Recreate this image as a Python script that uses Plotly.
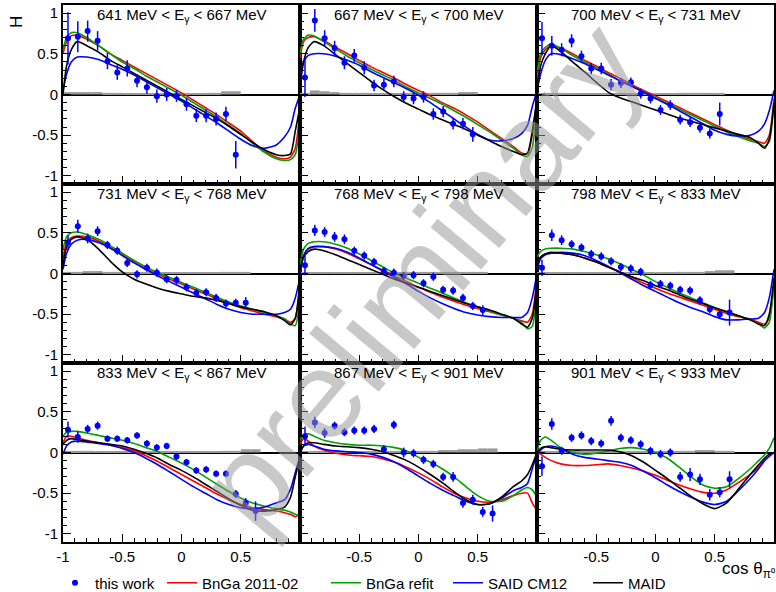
import plotly.graph_objects as go
from plotly.subplots import make_subplots

# ---------------- data ----------------
COS_BINS = [-0.958, -0.875, -0.792, -0.708, -0.625, -0.542, -0.458, -0.375, -0.292, -0.208,
            -0.125, -0.042, 0.042, 0.125, 0.208, 0.292, 0.375, 0.458, 0.542, 0.625]
BIN_WIDTH = 1.0 / 12

E_LOW = [641, 667, 700, 731, 768, 798, 833, 867, 901]
E_HIGH = [667, 700, 731, 768, 798, 833, 867, 901, 933]

H_641 = [0.69, 0.71, 0.78, 0.66, 0.41, 0.27, 0.32, 0.17, 0.09, -0.02, 0.0, -0.02, -0.12, -0.26, -0.26, -0.30, -0.24, -0.74]
E_641 = [0.32, 0.19, 0.13, 0.12, 0.10, 0.09, 0.10, 0.08, 0.08, 0.08, 0.08, 0.07, 0.08, 0.08, 0.08, 0.08, 0.09, 0.17]
S_641 = [0.03, 0.03, 0.03, 0.03, 0.02, 0.02, 0.01, 0.01, 0.01, 0.01, 0.01, 0.01, 0.01, 0.01, 0.02, 0.02, 0.04, 0.04]

H_667 = [0.21, 0.91, 0.69, 0.57, 0.39, 0.48, 0.33, 0.11, 0.12, 0.16, -0.03, -0.05, -0.03, -0.24, -0.21, -0.36, -0.36, -0.49]
E_667 = [0.24, 0.14, 0.10, 0.09, 0.08, 0.08, 0.08, 0.07, 0.07, 0.07, 0.07, 0.07, 0.07, 0.07, 0.07, 0.07, 0.07, 0.09]
S_667 = [0.02, 0.05, 0.04, 0.03, 0.02, 0.02, 0.02, 0.01, 0.01, 0.01, 0.01, 0.01, 0.01, 0.02, 0.02, 0.02, 0.03, 0.03]

H_700 = [0.69, 0.60, 0.55, 0.66, 0.47, 0.32, 0.32, 0.12, 0.14, 0.15, 0.01, -0.05, -0.19, -0.13, -0.31, -0.34, -0.41, -0.48, -0.24]
E_700 = [0.20, 0.12, 0.08, 0.08, 0.07, 0.07, 0.07, 0.07, 0.06, 0.06, 0.06, 0.06, 0.06, 0.06, 0.06, 0.06, 0.06, 0.06, 0.14]
S_700 = [0.01, 0.02, 0.02, 0.01, 0.01, 0.01, 0.01, 0.01, 0.01, 0.01, 0.01, 0.01, 0.01, 0.01, 0.02, 0.02, 0.02, 0.02, 0.02]

H_731 = [0.38, 0.58, 0.43, 0.52, 0.35, 0.28, 0.13, -0.01, 0.07, 0.01, -0.07, -0.08, -0.17, -0.24, -0.23, -0.30, -0.37, -0.36, -0.36]
E_731 = [0.09, 0.08, 0.06, 0.06, 0.05, 0.05, 0.05, 0.05, 0.05, 0.05, 0.05, 0.05, 0.05, 0.05, 0.05, 0.05, 0.05, 0.05, 0.07]
S_731 = [0.02, 0.02, 0.03, 0.03, 0.02, 0.02, 0.01, 0.01, 0.01, 0.01, 0.01, 0.01, 0.01, 0.01, 0.01, 0.01, 0.02, 0.02, 0.02]

H_768 = [0.10, 0.53, 0.51, 0.45, 0.42, 0.28, 0.22, 0.14, 0.03, 0.01, -0.03, -0.02, -0.12, -0.04, -0.20, -0.21, -0.30, -0.40, -0.45]
E_768 = [0.12, 0.07, 0.06, 0.06, 0.06, 0.05, 0.05, 0.05, 0.05, 0.05, 0.05, 0.05, 0.05, 0.05, 0.05, 0.05, 0.05, 0.05, 0.06]
S_768 = [0.01, 0.01, 0.01, 0.01, 0.01, 0.01, 0.01, 0.01, 0.02, 0.02, 0.02, 0.02, 0.02, 0.02, 0.02, 0.02, 0.02, 0.02, 0.02]

H_798 = [0.07, 0.47, 0.41, 0.36, 0.32, 0.24, 0.21, 0.15, 0.08, 0.06, 0.02, -0.14, -0.13, -0.15, -0.20, -0.21, -0.33, -0.44, -0.50, -0.48]
E_798 = [0.10, 0.07, 0.06, 0.05, 0.05, 0.05, 0.05, 0.05, 0.05, 0.05, 0.05, 0.05, 0.05, 0.05, 0.05, 0.05, 0.05, 0.05, 0.06, 0.16]
S_798 = [0.01, 0.01, 0.01, 0.01, 0.01, 0.01, 0.01, 0.01, 0.01, 0.01, 0.01, 0.01, 0.01, 0.01, 0.02, 0.02, 0.02, 0.03, 0.04, 0.04]

H_833 = [0.28, 0.19, 0.29, 0.33, 0.17, 0.17, 0.15, 0.21, 0.11, 0.06, 0.08, -0.05, -0.12, -0.22, -0.21, -0.26, -0.26, -0.51, -0.62, -0.72]
E_833 = [0.10, 0.07, 0.05, 0.05, 0.04, 0.04, 0.04, 0.04, 0.04, 0.04, 0.04, 0.04, 0.04, 0.04, 0.04, 0.04, 0.04, 0.05, 0.06, 0.12]
S_833 = [0.02, 0.02, 0.02, 0.01, 0.01, 0.01, 0.01, 0.01, 0.01, 0.01, 0.01, 0.01, 0.01, 0.01, 0.01, 0.01, 0.02, 0.02, 0.04, 0.04]

H_867 = [0.20, 0.37, 0.24, 0.33, 0.25, 0.27, 0.27, 0.29, 0.04, 0.34, 0.0, -0.01, -0.09, -0.14, -0.30, -0.30, -0.62, -0.58, -0.73, -0.75]
E_867 = [0.12, 0.07, 0.06, 0.05, 0.05, 0.05, 0.05, 0.05, 0.05, 0.05, 0.06, 0.05, 0.05, 0.05, 0.05, 0.06, 0.06, 0.06, 0.06, 0.10]
S_867 = [0.01, 0.01, 0.01, 0.01, 0.01, 0.01, 0.01, 0.01, 0.01, 0.01, 0.01, 0.01, 0.02, 0.02, 0.03, 0.03, 0.04, 0.04, 0.05, 0.05]

H_901 = [-0.17, 0.35, 0.02, 0.18, 0.21, 0.14, 0.11, 0.39, 0.18, 0.15, 0.10, 0.02, -0.02, 0.0, -0.30, -0.27, -0.33, -0.52, -0.49, -0.33]
E_901 = [0.12, 0.07, 0.05, 0.05, 0.05, 0.05, 0.05, 0.06, 0.05, 0.05, 0.05, 0.05, 0.05, 0.05, 0.06, 0.08, 0.07, 0.07, 0.06, 0.10]
S_901 = [0.01, 0.01, 0.01, 0.01, 0.01, 0.01, 0.01, 0.01, 0.01, 0.01, 0.01, 0.01, 0.01, 0.02, 0.02, 0.02, 0.03, 0.03, 0.02, 0.02]

COS_MODEL = [-1.0, -0.97, -0.93, -0.88, -0.8, -0.7, -0.6, -0.5, -0.4, -0.3, -0.2, -0.1, 0.0,
             0.1, 0.2, 0.3, 0.4, 0.5, 0.6, 0.7, 0.8, 0.87, 0.92, 0.96, 1.0]

BNGA_641 = [0.50, 0.65, 0.72, 0.73, 0.68, 0.60, 0.50, 0.42, 0.34, 0.26, 0.18, 0.10, 0.02, -0.07, -0.16, -0.25, -0.35, -0.45, -0.58, -0.70, -0.77, -0.79, -0.77, -0.66, -0.20]
REFIT_641 = [0.55, 0.70, 0.76, 0.76, 0.70, 0.60, 0.50, 0.40, 0.32, 0.23, 0.15, 0.07, -0.01, -0.10, -0.19, -0.28, -0.38, -0.48, -0.60, -0.71, -0.79, -0.81, -0.80, -0.74, -0.30]
SAID_641 = [0.05, 0.25, 0.40, 0.46, 0.46, 0.43, 0.37, 0.31, 0.24, 0.16, 0.08, 0.0, -0.08, -0.17, -0.26, -0.35, -0.45, -0.55, -0.63, -0.66, -0.62, -0.52, -0.40, -0.17, 0.0]
MAID_641 = [0.0, 0.35, 0.55, 0.65, 0.60, 0.52, 0.42, 0.34, 0.26, 0.18, 0.10, 0.02, -0.06, -0.14, -0.22, -0.30, -0.39, -0.49, -0.59, -0.68, -0.74, -0.75, -0.73, -0.45, -0.15]

BNGA_667 = [0.45, 0.65, 0.70, 0.71, 0.66, 0.58, 0.50, 0.42, 0.34, 0.27, 0.20, 0.12, 0.05, -0.02, -0.10, -0.17, -0.25, -0.34, -0.44, -0.54, -0.64, -0.72, -0.73, -0.50, -0.05]
REFIT_667 = [0.50, 0.68, 0.73, 0.72, 0.65, 0.56, 0.47, 0.39, 0.31, 0.24, 0.17, 0.09, 0.02, -0.05, -0.12, -0.20, -0.28, -0.37, -0.46, -0.56, -0.66, -0.74, -0.76, -0.65, -0.10]
SAID_667 = [0.25, 0.40, 0.48, 0.50, 0.50, 0.47, 0.42, 0.36, 0.28, 0.21, 0.14, 0.07, -0.01, -0.10, -0.20, -0.30, -0.40, -0.49, -0.56, -0.57, -0.54, -0.48, -0.38, -0.15, 0.05]
MAID_667 = [0.10, 0.40, 0.58, 0.65, 0.60, 0.49, 0.38, 0.27, 0.16, 0.06, -0.03, -0.11, -0.18, -0.25, -0.31, -0.37, -0.43, -0.50, -0.57, -0.64, -0.70, -0.74, -0.72, -0.45, -0.05]

BNGA_700 = [0.20, 0.45, 0.55, 0.60, 0.57, 0.50, 0.42, 0.35, 0.27, 0.20, 0.12, 0.05, -0.02, -0.09, -0.16, -0.23, -0.30, -0.37, -0.44, -0.50, -0.55, -0.58, -0.60, -0.50, -0.05]
REFIT_700 = [0.25, 0.50, 0.58, 0.62, 0.57, 0.48, 0.40, 0.33, 0.25, 0.17, 0.10, 0.03, -0.04, -0.11, -0.18, -0.25, -0.32, -0.39, -0.46, -0.52, -0.57, -0.60, -0.64, -0.58, -0.10]
SAID_700 = [0.05, 0.25, 0.42, 0.50, 0.49, 0.44, 0.38, 0.31, 0.24, 0.17, 0.10, 0.03, -0.05, -0.12, -0.20, -0.28, -0.36, -0.44, -0.49, -0.51, -0.50, -0.45, -0.36, -0.20, 0.05]
MAID_700 = [0.0, 0.35, 0.50, 0.60, 0.53, 0.40, 0.28, 0.15, 0.03, -0.04, -0.09, -0.14, -0.19, -0.24, -0.29, -0.33, -0.37, -0.41, -0.45, -0.49, -0.53, -0.60, -0.66, -0.55, -0.10]

BNGA_731 = [0.20, 0.38, 0.44, 0.46, 0.45, 0.40, 0.32, 0.23, 0.14, 0.06, -0.01, -0.07, -0.13, -0.19, -0.25, -0.31, -0.37, -0.42, -0.46, -0.50, -0.53, -0.56, -0.60, -0.55, -0.10]
REFIT_731 = [0.30, 0.45, 0.50, 0.51, 0.48, 0.42, 0.34, 0.25, 0.16, 0.08, 0.01, -0.05, -0.11, -0.17, -0.23, -0.29, -0.35, -0.40, -0.44, -0.48, -0.52, -0.56, -0.62, -0.64, -0.30]
SAID_731 = [0.05, 0.25, 0.36, 0.41, 0.42, 0.38, 0.31, 0.22, 0.13, 0.05, -0.03, -0.10, -0.17, -0.24, -0.31, -0.38, -0.44, -0.48, -0.50, -0.50, -0.50, -0.48, -0.44, -0.30, -0.05]
MAID_731 = [0.10, 0.33, 0.42, 0.45, 0.42, 0.30, 0.15, 0.02, -0.07, -0.13, -0.18, -0.22, -0.25, -0.28, -0.30, -0.33, -0.37, -0.41, -0.44, -0.47, -0.52, -0.58, -0.63, -0.55, -0.10]

BNGA_768 = [0.0, 0.22, 0.30, 0.33, 0.33, 0.30, 0.25, 0.18, 0.11, 0.04, -0.03, -0.10, -0.17, -0.23, -0.29, -0.34, -0.39, -0.43, -0.47, -0.51, -0.55, -0.58, -0.60, -0.50, -0.05]
REFIT_768 = [0.10, 0.30, 0.37, 0.39, 0.39, 0.36, 0.31, 0.24, 0.16, 0.08, 0.0, -0.06, -0.12, -0.18, -0.24, -0.30, -0.36, -0.41, -0.46, -0.51, -0.55, -0.60, -0.68, -0.65, -0.20]
SAID_768 = [0.0, 0.22, 0.31, 0.33, 0.33, 0.31, 0.26, 0.19, 0.11, 0.03, -0.05, -0.13, -0.22, -0.30, -0.37, -0.43, -0.48, -0.51, -0.53, -0.54, -0.54, -0.54, -0.48, -0.30, 0.0]
MAID_768 = [0.05, 0.20, 0.27, 0.30, 0.28, 0.23, 0.17, 0.11, 0.05, -0.01, -0.07, -0.12, -0.17, -0.22, -0.27, -0.32, -0.37, -0.41, -0.45, -0.50, -0.55, -0.62, -0.66, -0.55, -0.10]

BNGA_798 = [0.10, 0.20, 0.24, 0.25, 0.25, 0.23, 0.19, 0.14, 0.08, 0.02, -0.05, -0.12, -0.18, -0.24, -0.29, -0.34, -0.39, -0.44, -0.49, -0.53, -0.56, -0.60, -0.62, -0.55, -0.10]
REFIT_798 = [0.20, 0.27, 0.30, 0.31, 0.31, 0.30, 0.27, 0.23, 0.18, 0.12, 0.05, -0.02, -0.10, -0.17, -0.24, -0.30, -0.36, -0.42, -0.47, -0.52, -0.57, -0.62, -0.67, -0.60, -0.10]
SAID_798 = [0.05, 0.18, 0.23, 0.25, 0.26, 0.25, 0.22, 0.16, 0.09, 0.01, -0.07, -0.15, -0.22, -0.29, -0.36, -0.42, -0.47, -0.53, -0.57, -0.57, -0.56, -0.55, -0.48, -0.30, 0.05]
MAID_798 = [0.10, 0.20, 0.24, 0.26, 0.25, 0.23, 0.19, 0.14, 0.08, 0.02, -0.04, -0.09, -0.15, -0.20, -0.26, -0.32, -0.37, -0.42, -0.47, -0.52, -0.57, -0.62, -0.64, -0.50, -0.05]

BNGA_833 = [0.12, 0.20, 0.20, 0.18, 0.15, 0.12, 0.09, 0.06, 0.02, -0.04, -0.11, -0.19, -0.27, -0.35, -0.43, -0.51, -0.58, -0.64, -0.68, -0.70, -0.72, -0.74, -0.76, -0.79, -0.75]
REFIT_833 = [0.20, 0.25, 0.26, 0.26, 0.24, 0.21, 0.18, 0.15, 0.11, 0.06, 0.01, -0.06, -0.13, -0.21, -0.30, -0.39, -0.48, -0.56, -0.62, -0.66, -0.69, -0.71, -0.73, -0.76, -0.78]
SAID_833 = [-0.02, 0.08, 0.13, 0.14, 0.13, 0.11, 0.09, 0.05, 0.0, -0.07, -0.15, -0.24, -0.33, -0.42, -0.50, -0.58, -0.64, -0.68, -0.69, -0.67, -0.62, -0.58, -0.45, -0.25, -0.05]
MAID_833 = [0.10, 0.15, 0.17, 0.16, 0.14, 0.12, 0.10, 0.08, 0.04, -0.01, -0.07, -0.15, -0.22, -0.30, -0.39, -0.48, -0.57, -0.65, -0.71, -0.72, -0.70, -0.67, -0.55, -0.30, -0.05]

BNGA_867 = [0.10, 0.17, 0.14, 0.08, 0.03, -0.01, -0.03, -0.04, -0.05, -0.08, -0.12, -0.18, -0.25, -0.33, -0.42, -0.50, -0.56, -0.60, -0.61, -0.58, -0.53, -0.50, -0.50, -0.62, -0.72]
REFIT_867 = [0.15, 0.22, 0.23, 0.20, 0.15, 0.12, 0.10, 0.09, 0.09, 0.08, 0.06, 0.02, -0.06, -0.12, -0.20, -0.30, -0.42, -0.53, -0.60, -0.60, -0.53, -0.46, -0.43, -0.46, -0.55]
SAID_867 = [-0.02, 0.08, 0.10, 0.08, 0.04, 0.02, 0.01, 0.0, -0.02, -0.06, -0.12, -0.20, -0.29, -0.38, -0.46, -0.53, -0.60, -0.64, -0.63, -0.56, -0.47, -0.43, -0.38, -0.20, 0.0]
MAID_867 = [0.0, 0.08, 0.12, 0.12, 0.10, 0.08, 0.07, 0.06, 0.04, 0.01, -0.04, -0.10, -0.18, -0.27, -0.37, -0.48, -0.58, -0.64, -0.63, -0.55, -0.42, -0.35, -0.27, -0.15, 0.0]

BNGA_901 = [0.0, -0.02, -0.06, -0.10, -0.14, -0.16, -0.16, -0.15, -0.14, -0.16, -0.19, -0.23, -0.28, -0.34, -0.40, -0.45, -0.49, -0.50, -0.46, -0.37, -0.27, -0.18, -0.10, -0.05, 0.0]
REFIT_901 = [0.0, 0.15, 0.19, 0.15, 0.06, 0.0, -0.02, -0.01, 0.02, 0.05, 0.06, 0.04, 0.0, -0.07, -0.18, -0.30, -0.40, -0.44, -0.42, -0.32, -0.20, -0.10, -0.03, 0.05, 0.18]
SAID_901 = [-0.03, 0.03, 0.07, 0.08, 0.05, -0.02, -0.06, -0.08, -0.10, -0.12, -0.16, -0.23, -0.31, -0.40, -0.48, -0.55, -0.61, -0.64, -0.60, -0.47, -0.32, -0.20, -0.10, -0.04, 0.0]
MAID_901 = [0.0, 0.05, 0.07, 0.06, 0.04, 0.03, 0.03, 0.03, 0.03, 0.01, -0.04, -0.12, -0.22, -0.32, -0.43, -0.54, -0.63, -0.69, -0.62, -0.45, -0.27, -0.15, -0.07, -0.02, 0.0]

DATA = [(H_641, E_641, S_641), (H_667, E_667, S_667), (H_700, E_700, S_700),
        (H_731, E_731, S_731), (H_768, E_768, S_768), (H_798, E_798, S_798),
        (H_833, E_833, S_833), (H_867, E_867, S_867), (H_901, E_901, S_901)]
MODELS = [(BNGA_641, REFIT_641, SAID_641, MAID_641), (BNGA_667, REFIT_667, SAID_667, MAID_667),
          (BNGA_700, REFIT_700, SAID_700, MAID_700), (BNGA_731, REFIT_731, SAID_731, MAID_731),
          (BNGA_768, REFIT_768, SAID_768, MAID_768), (BNGA_798, REFIT_798, SAID_798, MAID_798),
          (BNGA_833, REFIT_833, SAID_833, MAID_833), (BNGA_867, REFIT_867, SAID_867, MAID_867),
          (BNGA_901, REFIT_901, SAID_901, MAID_901)]
MODEL_NAMES = ["BnGa 2011-02", "BnGa refit", "SAID CM12", "MAID"]

# ---------------- style ----------------
FONT = "Liberation Sans, Arial, Helvetica, sans-serif"
MODEL_COLORS = ["#ff0000", "#00a000", "#0000ff", "#000000"]
LEGENDS = ["legend2", "legend3", "legend4", "legend5"]

W, H = 776, 592
ML, MR, MT, MB = 63, 2, 5, 50
PW, PH = W - ML - MR, H - MT - MB


def px_x(p):
    return (p - ML) / PW


def px_y(p):
    return (H - MB - p) / PH


fig = make_subplots(rows=3, cols=3, horizontal_spacing=0, vertical_spacing=0)

# watermark first so that the panel titles are drawn on top of it
fig.add_annotation(text="preliminary", xref="paper", yref="paper", x=px_x(420), y=px_y(274),
                   xanchor="center", yanchor="middle",
                   textangle=-50, showarrow=False,
                   font=dict(family=FONT, size=125, color="rgba(150,150,150,0.52)"))

for k in range(9):
    r, c = k // 3 + 1, k % 3 + 1
    h, e, s = DATA[k]
    n = len(h)
    xs = COS_BINS[:n]
    # systematic error band (gray histogram)
    fig.add_trace(go.Bar(x=xs, y=s, width=BIN_WIDTH, base=0,
                         marker=dict(color="#9a9a9a", line=dict(width=0)),
                         showlegend=False, hoverinfo="skip"), row=r, col=c)
    # models
    for m, (vals, name) in enumerate(zip(MODELS[k], MODEL_NAMES)):
        fig.add_trace(go.Scatter(x=COS_MODEL, y=vals, mode="lines", name=name,
                                 line=dict(color=MODEL_COLORS[m], width=1.6, shape="spline", smoothing=0.6),
                                 showlegend=(k == 0), legend=LEGENDS[m]), row=r, col=c)
    # data
    fig.add_trace(go.Scatter(x=xs, y=h, mode="markers", name="this work",
                             marker=dict(color="#0000ff", size=6),
                             error_y=dict(type="data", array=e, color="#0000ff", thickness=1.5, width=0),
                             showlegend=(k == 0), legend="legend"), row=r, col=c)

    xname = "x" if k == 0 else f"x{k+1}"
    yname = "y" if k == 0 else f"y{k+1}"
    fig.add_annotation(text=f"{E_LOW[k]} MeV &lt; E<sub>γ</sub> &lt; {E_HIGH[k]} MeV",
                       xref=f"{xname} domain", yref=f"{yname} domain", x=0.5, y=0.94,
                       xanchor="center", yanchor="middle", showarrow=False,
                       font=dict(family=FONT, size=15, color="black"))

    if c == 1:
        ytext = ["-1", "-0.5", "0", "0.5", "1"]
    else:
        ytext = [""] * 5
    if r == 3:
        xtext = {1: ["-1", "-0.5", "0", "0.5", ""], 2: ["", "-0.5", "0", "0.5", ""],
                 3: ["", "-0.5", "0", "0.5", "1"]}[c]
    else:
        xtext = [""] * 5
    fig.update_xaxes(range=[-1, 1], tickmode="array", tickvals=[-1, -0.5, 0, 0.5, 1], ticktext=xtext,
                     ticks="inside", ticklen=8, tickwidth=1, tickcolor="black",
                     minor=dict(ticks="inside", ticklen=4, tickmode="linear", tick0=0, dtick=0.1,
                                tickcolor="black", tickwidth=1, showgrid=False),
                     showline=True, linecolor="black", linewidth=2, mirror=True,
                     showgrid=False, zeroline=False,
                     tickfont=dict(family=FONT, size=15, color="black"), row=r, col=c)
    fig.update_yaxes(range=[-1.1, 1.1], tickmode="array", tickvals=[-1, -0.5, 0, 0.5, 1], ticktext=ytext,
                     ticks="inside", ticklen=8, tickwidth=1, tickcolor="black",
                     minor=dict(ticks="inside", ticklen=4, tickmode="linear", tick0=0, dtick=0.1,
                                tickcolor="black", tickwidth=1, showgrid=False),
                     showline=True, linecolor="black", linewidth=2, mirror=True,
                     showgrid=False, zeroline=True, zerolinecolor="black", zerolinewidth=1.5,
                     tickfont=dict(family=FONT, size=15, color="black"), row=r, col=c)

# axis labels
fig.add_annotation(text="H", xref="paper", yref="paper", x=px_x(16), y=px_y(22), textangle=-90,
                   xanchor="center", yanchor="middle",
                   showarrow=False, font=dict(family=FONT, size=17, color="black"))
fig.add_annotation(text="cos θ<sub>π⁰</sub>", xref="paper", yref="paper", x=px_x(777), y=px_y(570),
                   xanchor="right", yanchor="middle", showarrow=False,
                   font=dict(family=FONT, size=17, color="black"))

legend_y = px_y(583)
leg_common = dict(orientation="h", yanchor="middle", xanchor="left", y=legend_y,
                  bgcolor="rgba(0,0,0,0)", borderwidth=0, itemwidth=30,
                  font=dict(family=FONT, size=15, color="black"))
fig.update_layout(
    width=W, height=H,
    margin=dict(l=ML, r=MR, t=MT, b=MB, autoexpand=False),
    paper_bgcolor="white", plot_bgcolor="white",
    barmode="overlay",
    legend=dict(x=px_x(55), **leg_common),
    legend2=dict(x=px_x(162), **leg_common),
    legend3=dict(x=px_x(326), **leg_common),
    legend4=dict(x=px_x(448), **leg_common),
    legend5=dict(x=px_x(588), **leg_common),
)

fig.write_html("out.html")
